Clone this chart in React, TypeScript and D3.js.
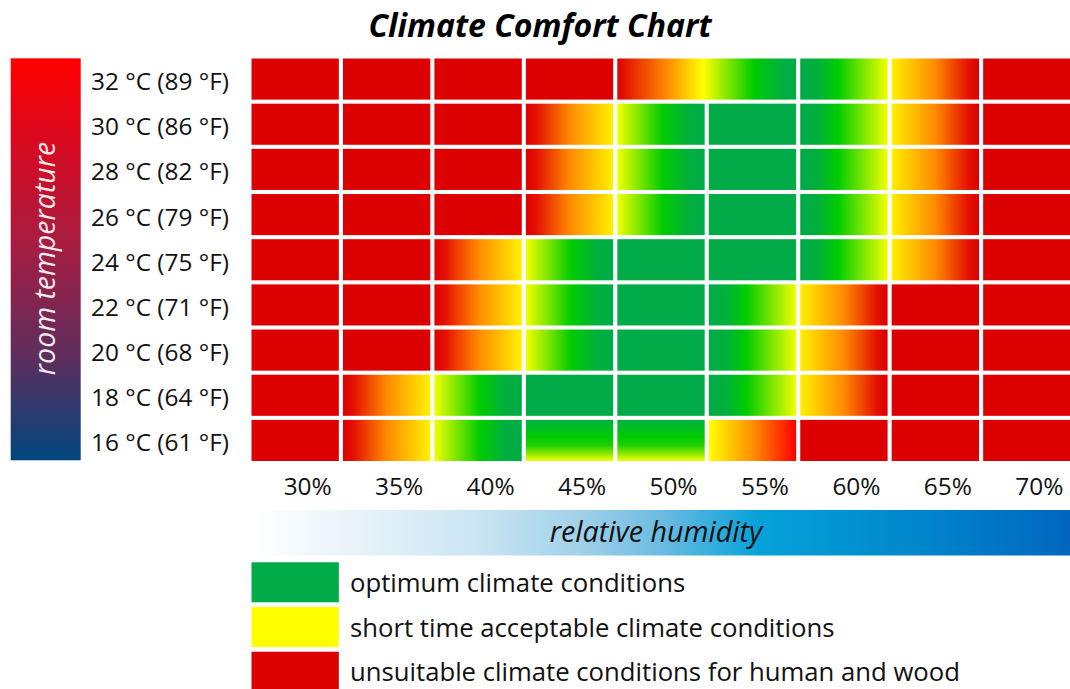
import React from "react";
import * as d3 from "d3";

// ---------- data ----------
const humidityLabels = ["30%", "35%", "40%", "45%", "50%", "55%", "60%", "65%", "70%"];
const tempC = [32, 30, 28, 26, 24, 22, 20, 18, 16];
const tempF = [89, 86, 82, 79, 75, 71, 68, 64, 61];

// cell codes: R = unsuitable, G = optimum, RY / YR / YG / GY = transitions,
// VG = vertical green->yellow, RYG = two-column transition, "-" = covered by previous span
const row32 = ["R", "R", "R", "R", "RYG", "-", "GY", "YR", "R"];
const row30 = ["R", "R", "R", "RY", "YG", "G", "GY", "YR", "R"];
const row28 = ["R", "R", "R", "RY", "YG", "G", "GY", "YR", "R"];
const row26 = ["R", "R", "R", "RY", "YG", "G", "GY", "YR", "R"];
const row24 = ["R", "R", "RY", "YG", "G", "G", "GY", "YR", "R"];
const row22 = ["R", "R", "RY", "YG", "G", "GY", "YR", "R", "R"];
const row20 = ["R", "R", "RY", "YG", "G", "GY", "YR", "R", "R"];
const row18 = ["R", "RY", "YG", "G", "G", "GY", "YR", "R", "R"];
const row16 = ["R", "RY", "YG", "VG", "VG", "YRB", "R", "R", "R"];
const comfortRows = [row32, row30, row28, row26, row24, row22, row20, row18, row16];

const legendLabels = [
  "optimum climate conditions",
  "short time acceptable climate conditions",
  "unsuitable climate conditions for human and wood",
];
const legendCodes = ["G", "Y", "R"];

// ---------- styles ----------
const RED = "#dd0000";
const DKGREEN = "#00ab48";
const GREEN = "#00cc00";
const YELLOW = "#ffff00";
const FONT = "'Open Sans', 'DejaVu Sans', sans-serif";

type Stop = [number, string];
const gradients: Record<string, { vertical?: boolean; stops: Stop[] }> = {
  RY: { stops: [[0, RED], [0.12, "#e41000"], [0.5, "#ff8a00"], [1, "#fff200"]] },
  YR: { stops: [[0, "#fff000"], [0.5, "#ff8a00"], [0.88, "#e41000"], [1, RED]] },
  YRB: { stops: [[0, "#ffff00"], [0.5, "#ff9000"], [1, "#ff0000"]] },
  YG: { stops: [[0, "#f2ff00"], [0.52, GREEN], [0.8, "#00b03c"], [1, DKGREEN]] },
  GY: { stops: [[0, DKGREEN], [0.2, "#00b03c"], [0.43, GREEN], [1, "#f2ff00"]] },
  RYG: {
    stops: [[0, RED], [0.28, "#ff8c00"], [0.48, "#ffff00"], [0.76, GREEN], [0.92, "#00b040"], [1, DKGREEN]],
  },
  VG: { vertical: true, stops: [[0, "#00b040"], [0.42, GREEN], [0.62, "#20d000"], [1, "#eeff00"]] },
};
const solid: Record<string, string> = { R: RED, G: DKGREEN, Y: YELLOW };

export default function App() {
  const W = 1070;
  const H = 689;

  const x = d3.scaleBand<string>().domain(humidityLabels).range([251.5, 1070.5]).paddingInner(0.045);
  const rowKeys = tempC.map((c) => String(c));
  const y = d3.scaleBand<string>().domain(rowKeys).range([58.5, 461]).paddingInner(0.09);
  const bw = x.bandwidth();
  const bh = y.bandwidth();
  const step = y.step();

  const fillFor = (code: string) => (solid[code] ? solid[code] : `url(#g-${code})`);

  const cells: React.ReactNode[] = [];
  comfortRows.forEach((row, ri) => {
    row.forEach((code, ci) => {
      if (code === "-") return;
      let span = 1;
      while (ci + span < row.length && row[ci + span] === "-") span++;
      const x0 = x(humidityLabels[ci])!;
      const x1 = x(humidityLabels[ci + span - 1])! + bw;
      cells.push(
        <rect
          key={`${ri}-${ci}`}
          x={x0}
          y={y(rowKeys[ri])!}
          width={x1 - x0}
          height={bh}
          fill={fillFor(code)}
        />
      );
    });
  });

  const legendY0 = 562.3;

  return (
    <svg
      width={W}
      height={H}
      style={{ position: "absolute", left: 0, top: 0, background: "#fff" }}
      fontFamily={FONT}
    >
      <defs>
        {Object.entries(gradients).map(([k, g]) => (
          <linearGradient
            key={k}
            id={`g-${k}`}
            x1="0"
            y1="0"
            x2={g.vertical ? "0" : "1"}
            y2={g.vertical ? "1" : "0"}
          >
            {g.stops.map(([o, c], i) => (
              <stop key={i} offset={o} stopColor={c} />
            ))}
          </linearGradient>
        ))}
        <linearGradient id="tempBar" x1="0" y1="0" x2="0" y2="1">
          <stop offset="0" stopColor="#ff0000" />
          <stop offset="0.2" stopColor="#da081f" />
          <stop offset="0.45" stopColor="#aa1c40" />
          <stop offset="0.75" stopColor="#5c2e5e" />
          <stop offset="1" stopColor="#00467f" />
        </linearGradient>
        <linearGradient id="humBar" x1="0" y1="0" x2="1" y2="0">
          <stop offset="0" stopColor="#ffffff" />
          <stop offset="0.27" stopColor="#cce6f3" />
          <stop offset="0.4" stopColor="#a2d1ea" />
          <stop offset="0.5" stopColor="#6cbbe2" />
          <stop offset="0.62" stopColor="#05a2d9" />
          <stop offset="0.8" stopColor="#0088cc" />
          <stop offset="1" stopColor="#0066c0" />
        </linearGradient>
      </defs>

      {/* title */}
      <text
        x={540}
        y={37}
        textAnchor="middle"
        fontSize={32}
        fontWeight="bold"
        fontStyle="italic"
        fill="#000"
      >
        Climate Comfort Chart
      </text>

      {/* temperature bar */}
      <rect x={10.7} y={58.3} width={70} height={402} fill="url(#tempBar)" />
      <text
        transform={`translate(55,258.5) rotate(-90)`}
        textAnchor="middle"
        fontSize={28.5}
        fontStyle="italic"
        fill="#ffffff"
        fillOpacity={0.92}
      >
        room temperature
      </text>

      {/* y labels */}
      {rowKeys.map((k, i) => (
        <text
          key={k}
          x={229}
          y={y(k)! + bh / 2 + 11}
          textAnchor="end"
          fontSize={24.4}
          fill="#111"
        >
          {`${tempC[i]} °C (${tempF[i]} °F)`}
        </text>
      ))}

      {/* cells */}
      <g>{cells}</g>

      {/* x labels */}
      {humidityLabels.map((h) => (
        <text key={h} x={x(h)! + bw / 2 + 12.5} y={495} textAnchor="middle" fontSize={24.4} fill="#111">
          {h}
        </text>
      ))}

      {/* humidity bar */}
      <rect x={251.5} y={510} width={818.5} height={45.5} fill="url(#humBar)" />
      <text x={656} y={541.5} textAnchor="middle" fontSize={28.7} fontStyle="italic" fill="#111">
        relative humidity
      </text>

      {/* legend */}
      {legendLabels.map((l, i) => (
        <g key={l}>
          <rect
            x={x(humidityLabels[0])!}
            y={legendY0 + i * step * 0.99}
            width={bw}
            height={40}
            fill={solid[legendCodes[i]]}
          />
          <text x={350} y={legendY0 + i * step * 0.99 + 29.5} fontSize={25.7} fill="#111">
            {l}
          </text>
        </g>
      ))}
    </svg>
  );
}
